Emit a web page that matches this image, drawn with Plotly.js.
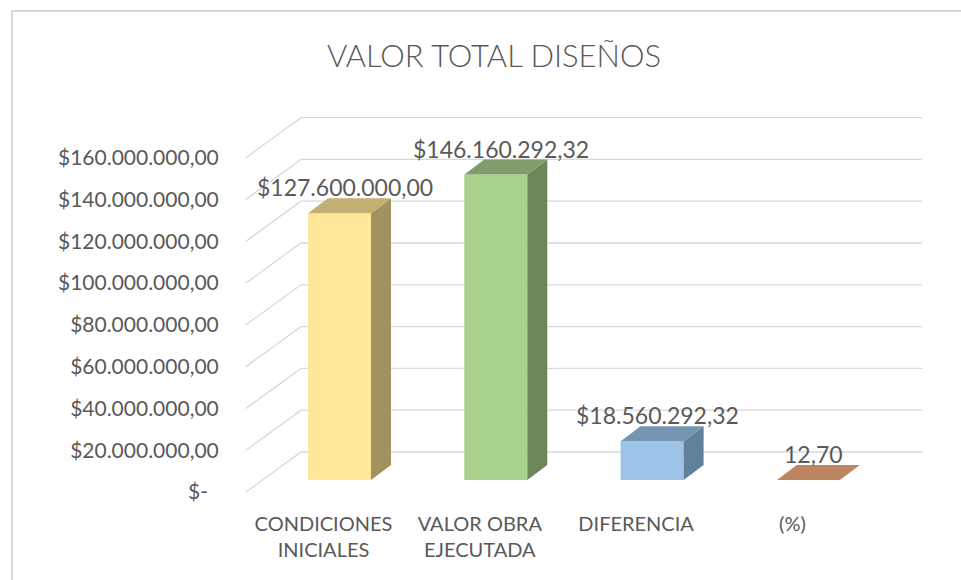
<!DOCTYPE html>
<html>
<head>
<meta charset="utf-8">
<script src="https://cdn.plot.ly/plotly-3.0.1.min.js"></script>
<style>html,body{margin:0;padding:0;background:#fff;}#chart{width:961px;height:580px;}</style>
</head>
<body>
<div id="chart"></div>
<script>
// ---- data ----
const categories = ['CONDICIONES<br>INICIALES', 'VALOR OBRA<br>EJECUTADA', 'DIFERENCIA', '(%)'];
const values = [127600000, 146160292.32, 18560292.32, 12.70];
const isPercent = [false, false, false, true];
const yTickValues = [0, 20000000, 40000000, 60000000, 80000000, 100000000, 120000000, 140000000, 160000000];
const chartTitle = 'VALOR TOTAL DISEÑOS';

// ---- styles ----
const frontColors = ['#FFE699', '#A9D18E', '#9DC3E6', '#F4B183'];
const topColors = ['#C2AF74', '#809D6B', '#7595B2', '#BE8660'];
const sideColors = ['#A3925F', '#6C8658', '#62809A', '#A36F4C'];
const textColor = '#595959';
const gridColor = '#D9D9D9';
const FONT = 'Lato, "Open Sans", sans-serif';

// ---- geometry (pixels) ----
const W = 961, H = 580;
const plotL = 246, plotR = 922, plotT = 100, plotB = 500;
const cat0px = 339.5, catPx = 156.3;      // category centre spacing
const basePx = 480;                        // zero line of bar front plane
const pxPerUnit = 2.09e-6;                 // pixels per currency unit
const barWpx = 63, depthDx = 20, depthDy = 15;   // bar width and depth
const frontDx = -16, frontDy = 12;         // floor front edge relative to bar plane
const backDy = 28;                         // back wall relative to bar plane
const wallLeftPx = 301, floorLeftPx = 246;

const px2x = p => p / catPx;
const px2y = p => p / pxPerUnit;
const xRange = [(plotL - cat0px) / catPx, (plotR - cat0px) / catPx];
const yRange = [-(plotB - basePx) / pxPerUnit, (basePx - plotT) / pxPerUnit];

function fmtNum(v) {
  const s = v.toFixed(2);
  let [ip, dp] = s.split('.');
  ip = ip.replace(/\B(?=(\d{3})+(?!\d))/g, '.');
  return ip + ',' + dp;
}
function fmtMoney(v) { return v === 0 ? '$-\u00a0\u00a0' : '$' + fmtNum(v); }

const traces = [];
const shapes = [];

// gridlines: slanted floor segment + back wall line
const xFloor = (floorLeftPx - cat0px) / catPx;
const xWall = (wallLeftPx - cat0px) / catPx;
yTickValues.forEach(v => {
  shapes.push({
    type: 'path', layer: 'below', xref: 'x', yref: 'y',
    path: `M ${xFloor},${v - px2y(frontDy)} L ${xWall},${v + px2y(backDy)} L ${xRange[1]},${v + px2y(backDy)}`,
    line: {color: gridColor, width: 1.3}
  });
});

// front faces: bar trace
traces.push({
  type: 'bar', x: categories.map((c, i) => i), y: values,
  width: px2x(barWpx), marker: {color: frontColors, line: {width: 0}},
  hoverinfo: 'skip', showlegend: false
});

// side and top faces
const hw = px2x(barWpx) / 2, ddx = px2x(depthDx), ddy = px2y(depthDy);
values.forEach((v, i) => {
  traces.push({
    type: 'scatter', mode: 'lines', fill: 'toself', fillcolor: sideColors[i],
    x: [i + hw, i + hw, i + hw + ddx, i + hw + ddx, i + hw],
    y: [0, v, v + ddy, ddy, 0],
    line: {width: 0, color: sideColors[i]}, hoverinfo: 'skip', showlegend: false
  });
  traces.push({
    type: 'scatter', mode: 'lines', fill: 'toself', fillcolor: topColors[i],
    x: [i - hw, i + hw, i + hw + ddx, i - hw + ddx, i - hw],
    y: [v, v, v + ddy, v + ddy, v],
    line: {width: 0, color: topColors[i]}, hoverinfo: 'skip', showlegend: false
  });
});

// data labels
const annotations = values.map((v, i) => ({
  xref: 'x', yref: 'y', x: i + px2x(5), y: v + ddy,
  text: isPercent[i] ? fmtNum(v) : fmtMoney(v),
  showarrow: false, xanchor: 'center', yanchor: 'middle', yshift: 11,
  font: {family: FONT, size: 23, color: textColor}
}));

// chart border (top and left visible)
shapes.push({
  type: 'rect', xref: 'paper', yref: 'paper', layer: 'below',
  x0: (12 - plotL) / (plotR - plotL), x1: (W + 20 - plotL) / (plotR - plotL),
  y0: (plotB - (H + 20)) / (plotB - plotT), y1: (plotB - 11) / (plotB - plotT),
  line: {color: '#D9D9D9', width: 2}
});

const layout = {
  width: W, height: H,
  margin: {l: plotL, r: W - plotR, t: plotT, b: H - plotB, pad: 0},
  paper_bgcolor: '#FFFFFF', plot_bgcolor: 'rgba(0,0,0,0)',
  showlegend: false,
  title: {
    text: chartTitle, xref: 'container', yref: 'container',
    x: 494 / W, xanchor: 'center', y: 1 - 56 / H, yanchor: 'middle',
    font: {family: FONT, size: 31, color: textColor, weight: 300}
  },
  xaxis: {
    range: xRange, showgrid: false, zeroline: false, showline: false,
    tickmode: 'array', tickvals: categories.map((c, i) => i + px2x(frontDx)), ticktext: categories,
    ticks: 'outside', ticklen: 6, tickcolor: 'rgba(0,0,0,0)',
    tickfont: {family: FONT, size: 20, color: textColor}, fixedrange: true
  },
  yaxis: {
    range: yRange, showgrid: false, zeroline: false, showline: false,
    tickmode: 'array', tickvals: yTickValues.map(v => v - px2y(frontDy)),
    ticktext: yTickValues.map(fmtMoney),
    ticks: 'outside', ticklen: 22, tickcolor: 'rgba(0,0,0,0)',
    tickfont: {family: FONT, size: 21, color: textColor}, fixedrange: true
  },
  shapes: shapes,
  annotations: annotations
};

Plotly.newPlot('chart', traces, layout, {staticPlot: true, displayModeBar: false});
</script>
</body>
</html>
